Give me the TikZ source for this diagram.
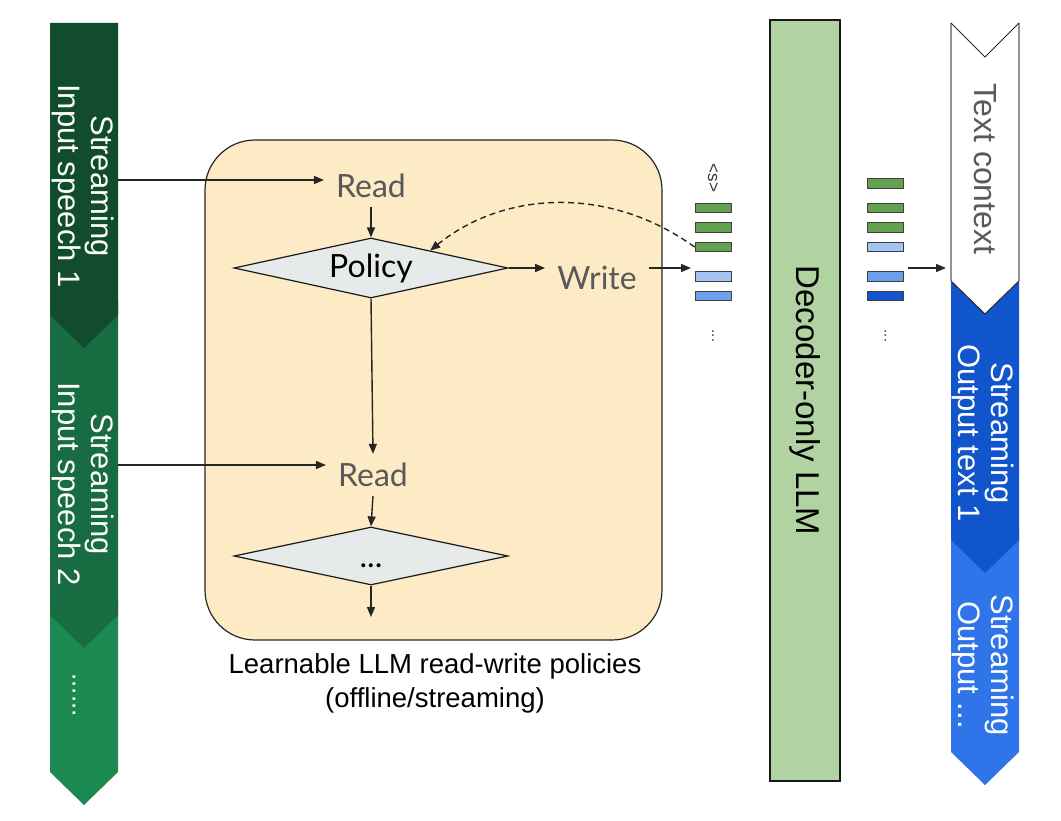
\documentclass[tikz,border=0pt]{standalone}
\usepackage{fontspec}
\setmainfont{Liberation Sans}
\newfontfamily\latof{Lato}
\usetikzlibrary{arrows.meta,shapes.geometric,calc}
\definecolor{gA}{HTML}{114D2D}
\definecolor{gB}{HTML}{186C41}
\definecolor{gC}{HTML}{1B8A50}
\definecolor{bA}{HTML}{1155CC}
\definecolor{bB}{HTML}{2F74E8}
\definecolor{boxfill}{HTML}{FDEBC6}
\definecolor{diafill}{HTML}{E7EAEB}
\definecolor{decfill}{HTML}{B0D3A1}
\definecolor{tokG}{HTML}{63A050}
\definecolor{tokL}{HTML}{A4C2F4}
\definecolor{tokM}{HTML}{6D9EEB}
\definecolor{tokD}{HTML}{1155CC}
\definecolor{lblgray}{HTML}{595959}
\begin{document}
\begin{tikzpicture}[x=1pt,y=-1pt,
  arr/.style={-{Triangle[length=10pt,width=8pt]}, line width=1.4pt, draw=black!85},
  lbl/.style={font=\latof\fontsize{32}{36}\selectfont, text=lblgray, inner xsep=12pt, inner ysep=9pt},
  coltext/.style={rotate=-90, align=center, text=white, font=\fontsize{31}{33}\selectfont},
  tok/.style={draw=black!75, line width=0.8pt, minimum width=36pt, minimum height=9.5pt, inner sep=0pt},
  dia/.style={diamond, aspect=4.6, draw=black!90, fill=diafill, line width=1.2pt, minimum width=274pt, minimum height=60pt, inner sep=0pt, font=\latof\fontsize{32}{36}\selectfont}
]
\useasboundingbox (0,0) rectangle (1061,821);
\fill[white] (0,0) rectangle (1061,821);

% ---------- left column (input speech) ----------
\fill[gC] (50,600) -- (118,600) -- (118,772) -- (84,805) -- (50,772) -- cycle;
\fill[gB] (50,300) -- (118,300) -- (118,615) -- (84,648) -- (50,615) -- cycle;
\fill[gA] (50,23) -- (118,23) -- (118,315) -- (84,348) -- (50,315) -- cycle;
\node[coltext] (s1) at (83,186) {Streaming\\Input speech 1};
\node[coltext] (s2) at (83,484) {Streaming\\Input speech 2};
\node[coltext, font=\fontsize{26}{28}\selectfont] (s3) at (74,695) {......};
\coordinate (in1) at (118,180);
\coordinate (in2) at (118,465);

% ---------- policy box ----------
\draw[fill=boxfill, draw=black!85, line width=1.2pt, rounded corners=50pt] (205,140) rectangle (662,640);
\node[lbl] (read1) at (371,186) {Read};
\node[dia] (pol) at (371,268) {Policy};
\node[lbl] (write) at (597,278) {Write};
\node[lbl] (read2) at (373,475) {Read};
\node[dia, minimum height=58pt] (dia2) at (371,556) {\smash{\raisebox{-11pt}{...}}};
\coordinate (out) at (371,617);
\node[align=center, font=\fontsize{27.5}{34}\selectfont] (cap) at (435,683) {Learnable LLM read-write policies\\(offline/streaming)};

\draw[arr] (in1) -- (in1 -| read1.west);
\draw[arr] (in2) -- (in2 -| read2.west);
\draw[arr] (read1.south) -- (pol.north);
\draw[arr] (pol.east) -- (pol.east -| write.west);
\draw[arr] (pol.south) -- (read2.north);
\draw[arr] (read2.south) -- (dia2.north);
\draw[arr] (dia2.south) -- (out);

% ---------- token column 1 ----------
\node[rotate=-90, font=\fontsize{17}{19}\selectfont, text=black!80] (sos) at (713,178) {<s>};
\node[tok, fill=tokG] (a1) at (713,208) {};
\node[tok, fill=tokG] (a2) at (713,227.5) {};
\node[tok, fill=tokG] (a3) at (713,247) {};
\node[tok, fill=tokL] (a4) at (713,276.5) {};
\node[tok, fill=tokM] (a5) at (713,296) {};
\node[rotate=-90, font=\fontsize{15}{16}\selectfont, text=black!80] (adots) at (713,336) {...};
\coordinate (tokin) at (691,268);
\draw[arr] (write.east |- pol.east) -- (tokin);
\draw[arr, dashed, dash pattern=on 6pt off 4pt] (a3.west) .. controls (610,186) and (505,190) .. ($(pol.north)!0.43!(pol.east)$);

% ---------- decoder ----------
\node[rotate=-90, draw=black!90, fill=decfill, line width=2.5pt, minimum width=761pt, minimum height=70pt, font=\fontsize{33}{36}\selectfont] (dec) at (805,400.5) {Decoder-only LLM};

% ---------- token column 2 ----------
\node[tok, fill=tokG] (b1) at (885.5,183.5) {};
\node[tok, fill=tokG] (b2) at (885.5,208) {};
\node[tok, fill=tokG] (b3) at (885.5,227.5) {};
\node[tok, fill=tokL] (b4) at (885.5,247) {};
\node[tok, fill=tokM] (b5) at (885.5,276.5) {};
\node[tok, fill=tokD] (b6) at (885.5,296) {};
\node[rotate=-90, font=\fontsize{15}{16}\selectfont, text=black!80] (bdots) at (885.5,336) {...};
\coordinate (tokout) at (908,268);
\coordinate (ctxin) at (946,268);
\draw[arr] (tokout) -- (ctxin);

% ---------- right column (output) ----------
\fill[bB] (951,530) -- (1019,530) -- (1019,752) -- (985,785) -- (951,752) -- cycle;
\fill[bA] (951,270) -- (1019,270) -- (1019,540) -- (985,573) -- (951,540) -- cycle;
\fill[white] (951,23) -- (985,57) -- (1019,23) -- (1019,281) -- (985,314) -- (951,281) -- cycle;
\draw[gray!85, line width=2pt] (951,23) -- (951,281) (1019,23) -- (1019,281);
\draw[black!85, line width=1pt] (951,23) -- (985,57) -- (1019,23) (951,281) -- (985,314) -- (1019,281);
\node[coltext, text=lblgray, font=\fontsize{32}{34}\selectfont] (ctx) at (985,169) {Text context};
\node[coltext] (o1) at (983,433) {Streaming\\Output text 1};
\node[coltext] (o2) at (983,665) {Streaming\\Output ...};
\end{tikzpicture}
\end{document}
